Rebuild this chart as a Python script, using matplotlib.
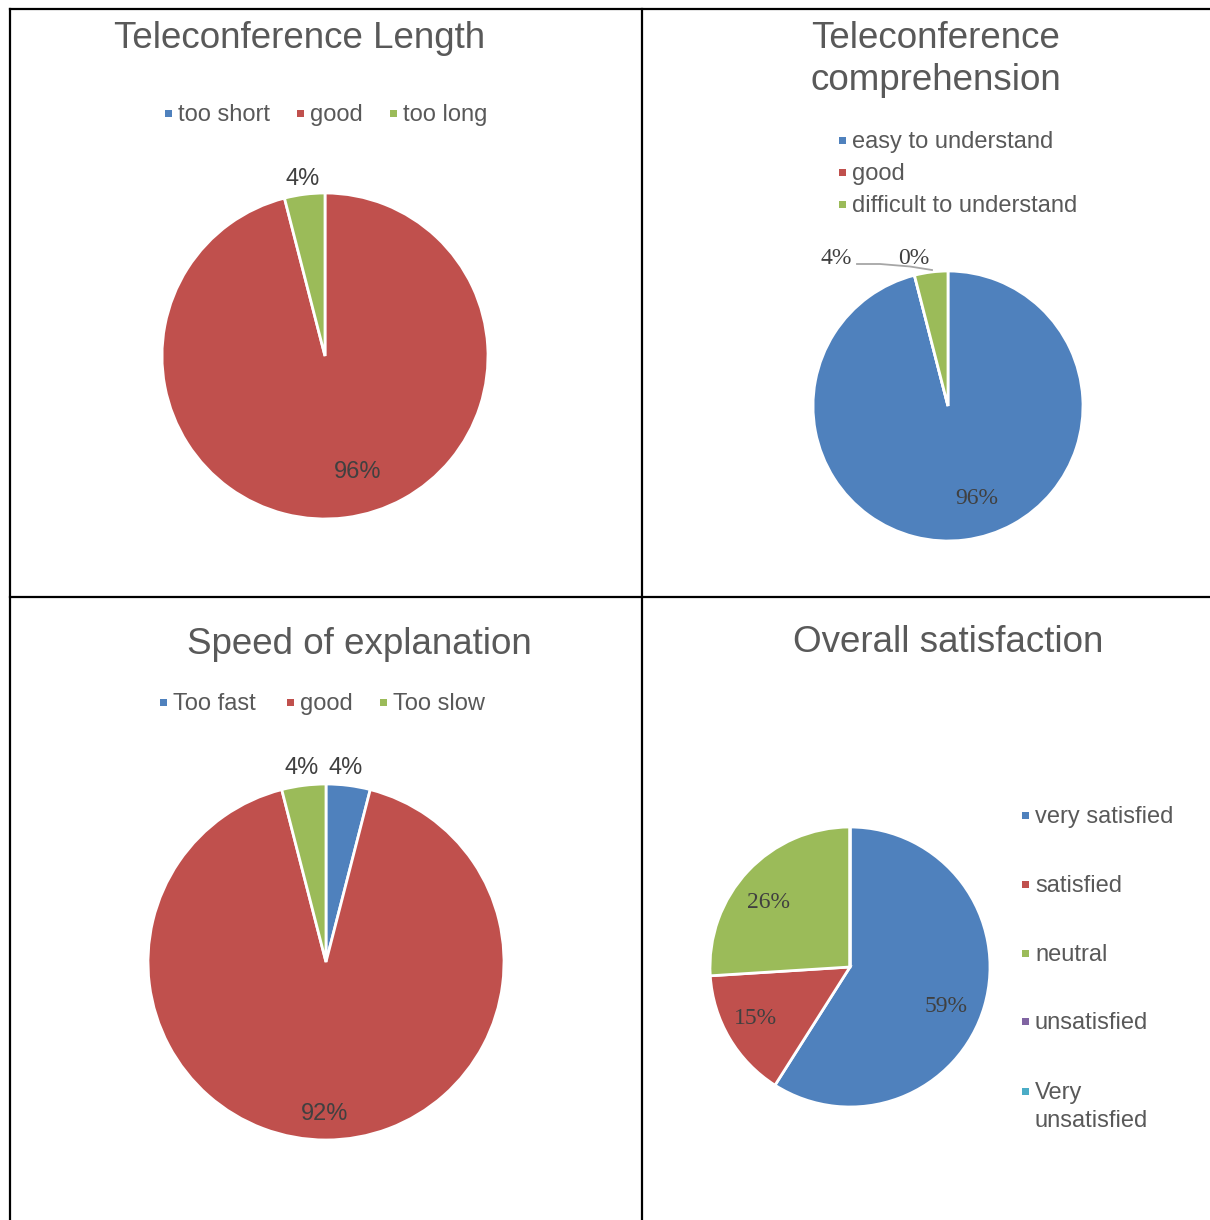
import matplotlib
matplotlib.use("Agg")
import matplotlib.pyplot as plt
from matplotlib.patches import Rectangle

W, H = 1210, 1220
DPI = 100

BLUE = "#4F81BD"
RED = "#C0504D"
GREEN = "#9BBB59"
PURPLE = "#8064A2"
CYAN = "#4BACC6"
TITLE_C = "#595959"
LABEL_C = "#404040"
SANS = "Liberation Sans"
SERIF = "Liberation Serif"

# --- data ---------------------------------------------------------------
length_cats = ["too short", "good", "too long"]
length_vals = [0, 96, 4]

compr_cats = ["easy to understand", "good", "difficult to understand"]
compr_vals = [96, 0, 4]

speed_cats = ["Too fast", "good", "Too slow"]
speed_vals = [4, 92, 4]

satis_cats = ["very satisfied", "satisfied", "neutral", "unsatisfied", "Very\nunsatisfied"]
satis_vals = [59, 15, 26, 0, 0]

three_colors = [BLUE, RED, GREEN]
five_colors = [BLUE, RED, GREEN, PURPLE, CYAN]

fig = plt.figure(figsize=(W / DPI, H / DPI), dpi=DPI)
fig.patch.set_facecolor("white")


def pie_axes(cx, cy, r, values, colors):
    pad = 1.1
    ax = fig.add_axes([(cx - pad * r) / W, (H - cy - pad * r) / H,
                       2 * pad * r / W, 2 * pad * r / H])
    ax.pie(values, colors=colors, startangle=90, counterclock=False,
           radius=1.0, wedgeprops=dict(edgecolor="white", linewidth=2.0))
    ax.set_xlim(-pad, pad)
    ax.set_ylim(-pad, pad)
    ax.axis("off")
    return ax


pie_axes(325, 356, 163, length_vals, three_colors)
pie_axes(948, 406, 135, compr_vals, three_colors)
pie_axes(326, 962, 178, speed_vals, three_colors)
pie_axes(850, 967, 140, satis_vals, five_colors)

# overlay in pixel coordinates for frame, titles, legends and labels
ov = fig.add_axes([0, 0, 1, 1], zorder=5)
ov.set_xlim(0, W)
ov.set_ylim(H, 0)
ov.axis("off")
ov.patch.set_alpha(0)

# table frame
lw = 1.6
ov.plot([10, W], [9, 9], color="black", lw=lw)
ov.plot([10, W], [597, 597], color="black", lw=lw)
ov.plot([10, 10], [9, H], color="black", lw=lw)
ov.plot([642, 642], [9, H], color="black", lw=lw)

DY = 2  # optical offset for vertically centred text


def title(x, y, s):
    ov.text(x, y + DY, s, ha="center", va="center", fontsize=26.5,
            color=TITLE_C, family=SANS)


def legend_item(x, y, color, s):
    ov.add_patch(Rectangle((x - 3.5, y - 3.5), 7, 7, facecolor=color,
                           edgecolor="none"))
    for i, line in enumerate(s.split("\n")):
        ov.text(x + 10, y + DY + 28 * i, line, ha="left", va="center",
                fontsize=17, color=TITLE_C, family=SANS)


def pct(x, y, v, serif=False):
    ov.text(x, y + DY, f"{v}%", ha="center", va="center", fontsize=17,
            color=LABEL_C, family=SERIF if serif else SANS)


# Teleconference Length
title(300, 36, "Teleconference Length")
for x, c, s in zip([168, 300, 393], three_colors, length_cats):
    legend_item(x, 113, c, s)
pct(303, 177, length_vals[2])
pct(358, 470, length_vals[1])

# Teleconference comprehension
title(936, 36, "Teleconference")
title(936, 78, "comprehension")
for y, c, s in zip([140, 172, 204], three_colors, compr_cats):
    legend_item(842, y, c, s)
pct(836, 256, compr_vals[2], serif=True)
pct(914, 256, compr_vals[1], serif=True)
pct(977, 496, compr_vals[0], serif=True)
ov.plot([857, 880, 910, 932], [264, 264, 266.5, 270], color="#A6A6A6", lw=1.3)

# Speed of explanation
title(359, 642, "Speed of explanation")
for x, c, s in zip([163, 290, 383], three_colors, speed_cats):
    legend_item(x, 702, c, s)
pct(302, 766, speed_vals[2])
pct(346, 766, speed_vals[0])
pct(325, 1112, speed_vals[1])

# Overall satisfaction
title(948, 640, "Overall satisfaction")
for y, c, s in zip([815, 884, 953, 1021, 1091], five_colors, satis_cats):
    legend_item(1025, y, c, s)
pct(769, 900, satis_vals[2], serif=True)
pct(755, 1016, satis_vals[1], serif=True)
pct(946, 1004, satis_vals[0], serif=True)

fig.savefig("out.png", dpi=DPI, facecolor="white")
